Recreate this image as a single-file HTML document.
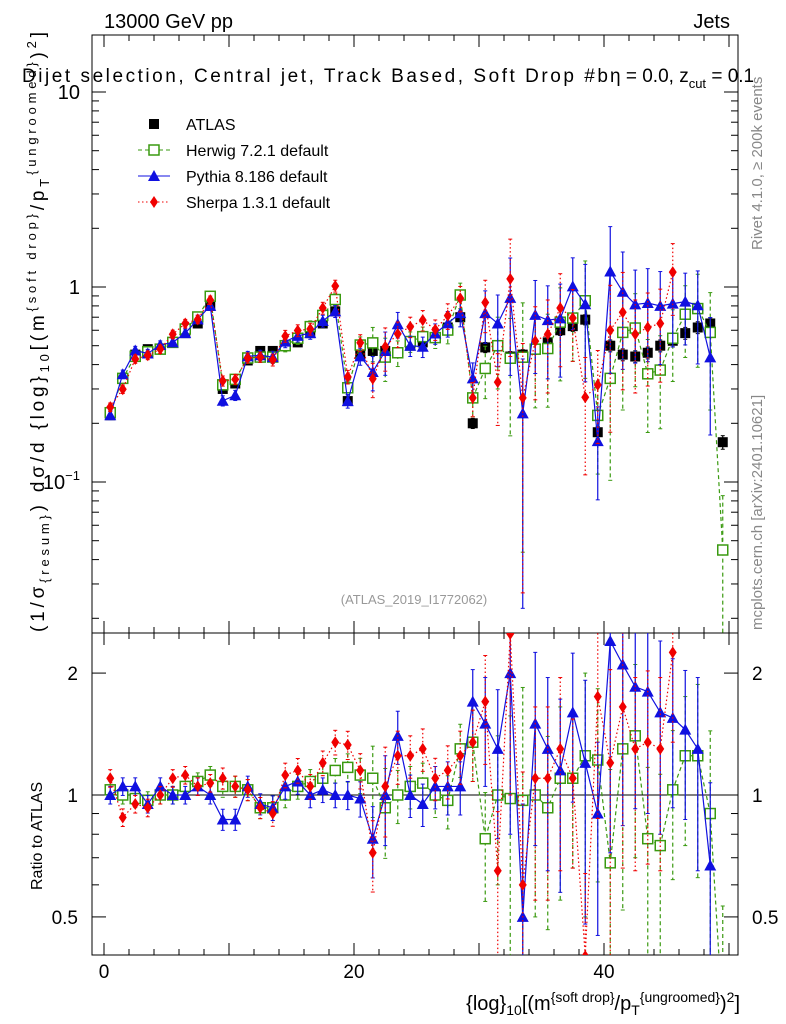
<!DOCTYPE html>
<html><head><meta charset="utf-8"><style>
html,body{margin:0;background:#fff;font-family:"Liberation Sans",sans-serif;width:786px;height:1024px;overflow:hidden}
svg{display:block}
svg text{font-family:"Liberation Sans","DejaVu Sans",sans-serif}
</style></head><body>
<svg id="c" width="786" height="1024" xmlns="http://www.w3.org/2000/svg">
<text x="104" y="28" font-size="20">13000 GeV pp</text>
<text x="730" y="28" font-size="20" text-anchor="end">Jets</text>
<text x="22" y="82" font-size="19" textLength="586" lengthAdjust="spacing">Dijet selection, Central jet, Track Based, Soft Drop #b</text>
<text x="610" y="82" font-size="19">η = 0.0, z<tspan font-size="13" dy="6">cut</tspan><tspan dy="-6"> = 0.1</tspan></text>
<text x="414" y="604" font-size="13" fill="#999" text-anchor="middle">(ATLAS_2019_I1772062)</text>
<text transform="translate(762,250) rotate(-90)" font-size="15" fill="#888">Rivet 4.1.0, ≥ 200k events</text>
<text transform="translate(762,630) rotate(-90)" font-size="15" fill="#888">mcplots.cern.ch [arXiv:2401.10621]</text>
<text transform="translate(44,632) rotate(-90)" font-size="19" textLength="600" lengthAdjust="spacing">(1/σ<tspan font-size="13" dy="5">{resum}</tspan><tspan dy="-5">) dσ/d {log}</tspan><tspan font-size="13" dy="5">10</tspan><tspan dy="-5">[(m</tspan><tspan font-size="13" dy="-8">{soft drop}</tspan><tspan dy="8">/p</tspan><tspan font-size="13" dy="5">T</tspan><tspan font-size="13" dy="-13">{ungroomed}</tspan><tspan dy="8">)</tspan><tspan font-size="13" dy="-8">2</tspan><tspan dy="8">]</tspan></text>
<text transform="translate(42,890) rotate(-90)" font-size="16">Ratio to ATLAS</text>
<text x="740" y="1010" font-size="20" text-anchor="end">{log}<tspan font-size="14" dy="5">10</tspan><tspan dy="-5">[(m</tspan><tspan font-size="14" dy="-8">{soft drop}</tspan><tspan dy="8">/p</tspan><tspan font-size="14" dy="5">T</tspan><tspan font-size="14" dy="-13">{ungroomed}</tspan><tspan dy="8">)</tspan><tspan font-size="14" dy="-8">2</tspan><tspan dy="8">]</tspan></text>
<g id="g"></g>
</svg>
<script>
const bins=[0,1,2,3,4,5,6,7,8,9,10,11,12,13,14,15,16,17,18,19,20,21,22,23,24,25,26,27,28,29,30,31,32,33,34,35,36,37,38,39,40,41,42,43,44,45,46,47,48,49];
const atlas=[0.22,0.34,0.45,0.48,0.48,0.52,0.58,0.65,0.8,0.30,0.32,0.42,0.47,0.47,0.50,0.52,0.58,0.65,0.75,0.26,0.45,0.47,0.47,0.46,0.50,0.52,0.55,0.62,0.70,0.20,0.49,0.50,0.44,0.45,0.48,0.52,0.60,0.63,0.68,0.18,0.50,0.45,0.44,0.46,0.50,0.53,0.58,0.62,0.65,0.16];
const herwigRatio=[1.03,1.0,0.98,0.97,1.0,1.0,1.05,1.08,1.12,1.05,1.05,1.03,0.93,0.93,1.0,1.05,1.08,1.1,1.15,1.17,1.12,1.1,0.93,1.0,1.05,1.07,1.0,0.97,1.3,1.35,0.78,1.0,0.98,0.97,1.0,0.93,1.1,1.1,1.25,1.22,0.68,1.3,1.4,0.78,0.75,1.03,1.25,1.25,0.9,0.28];
const pythiaRatio=[1.0,1.05,1.05,0.95,1.05,1.0,1.0,1.05,1.0,0.87,0.87,1.05,0.95,0.93,1.05,1.08,1.0,1.03,1.0,1.0,0.98,0.78,1.0,1.4,1.0,0.95,1.05,1.05,1.05,1.7,1.5,1.3,2.0,0.5,1.5,1.3,1.15,1.6,1.2,0.9,2.4,2.1,1.85,1.8,1.6,1.55,1.45,1.3,0.67];
const sherpaRatio=[1.1,0.88,0.95,0.93,1.0,1.1,1.12,1.05,1.07,1.1,1.05,1.03,0.93,0.9,1.12,1.15,1.05,1.2,1.35,1.33,1.15,0.72,1.05,1.25,1.25,1.3,1.1,1.15,1.25,1.35,1.7,0.65,2.5,0.6,1.1,1.1,1.3,1.1,0.4,1.75,1.2,1.65,1.3,1.35,1.3,2.25];
const atlasErr=[0.03,0.03,0.03,0.03,0.03,0.03,0.03,0.03,0.03,0.04,0.04,0.04,0.04,0.04,0.04,0.04,0.04,0.04,0.04,0.05,0.05,0.05,0.05,0.05,0.05,0.05,0.05,0.05,0.05,0.06,0.06,0.06,0.06,0.06,0.06,0.06,0.06,0.06,0.06,0.07,0.07,0.07,0.07,0.07,0.07,0.07,0.07,0.07,0.07,0.08];
const mcErr=[0.05,0.05,0.05,0.05,0.05,0.05,0.05,0.05,0.05,0.06,0.06,0.06,0.06,0.07,0.07,0.07,0.07,0.07,0.07,0.08,0.1,0.2,0.25,0.15,0.12,0.12,0.12,0.15,0.15,0.2,0.3,0.4,0.6,0.9,0.5,0.5,0.5,0.4,0.6,0.5,0.7,0.6,0.5,0.5,0.5,0.4,0.4,0.5,0.6,0.9];
const X0=92,X1=738,MY0=35,MY1=633,RY0=633,RY1=955;
const xs=v=>104+12.5*v;
const ym=v=>287-195*Math.log10(v);
const yr=v=>795-405*Math.log10(v);
const g=document.getElementById('g');const NS='http://www.w3.org/2000/svg';
function mk(t,a,p){const e=document.createElementNS(NS,t);for(const k in a)e.setAttribute(k,a[k]);(p||g).appendChild(e);return e;}
const clipM=mk('clipPath',{id:'cm'});mk('rect',{x:X0,y:MY0,width:X1-X0,height:MY1-MY0},clipM);
const clipR=mk('clipPath',{id:'cr'});mk('rect',{x:X0,y:RY0,width:X1-X0,height:RY1-RY0},clipR);
let f=mk('rect',{x:X0,y:MY0,width:X1-X0,height:MY1-MY0,fill:'none',stroke:'#000'});


f=mk('rect',{x:X0,y:RY0,width:X1-X0,height:RY1-RY0,fill:'none',stroke:'#000'});


for(let v=0;v<=50;v+=2){const maj=v%10==0,L=maj?12:6;
 [[RY1,-1],[MY1,-1],[RY0,1],[MY0,1]].forEach(([y,d])=>{mk('line',{x1:xs(v),x2:xs(v),y1:y,y2:y+d*L,stroke:'#000'});});}
[0,20,40].forEach(v=>{const t=mk('text',{x:xs(v),y:978,'font-size':19,'text-anchor':'middle'});t.textContent=v;

});
for(let d=-2;d<=1;d++)for(let m=1;m<=9;m++){const v=m*Math.pow(10,d),y=ym(v);if(y<MY0||y>MY1)continue;const L=m==1?14:7;
 mk('line',{x1:X0,x2:X0+L,y1:y,y2:y,stroke:'#000'});mk('line',{x1:X1,x2:X1-L,y1:y,y2:y,stroke:'#000'});}
[[10,'10'],[1,'1']].forEach(([v,s])=>{const t=mk('text',{x:80,y:ym(v)+7,'font-size':20,'text-anchor':'end'});t.textContent=s;

});
{const t=mk('text',{x:80,y:ym(0.1)+7,'font-size':20,'text-anchor':'end'});t.innerHTML='10<tspan font-size="13" dy="-9">−1</tspan>';

}
[0.5,0.6,0.7,0.8,0.9,1,2].forEach(v=>{const y=yr(v),L=(v==0.5||v==1||v==2)?14:7;
 mk('line',{x1:X0,x2:X0+L,y1:y,y2:y,stroke:'#000'});mk('line',{x1:X1,x2:X1-L,y1:y,y2:y,stroke:'#000'});});
[[2,'2'],[1,'1'],[0.5,'0.5']].forEach(([v,s])=>{[78,752].forEach((x,i)=>{const t=mk('text',{x:x,y:yr(v)+7,'font-size':19,'text-anchor':i?'start':'end'});t.textContent=s;

});});
mk('line',{x1:X0,x2:X1,y1:yr(1),y2:yr(1),stroke:'#000'});
function marker(p,kind,x,y,col){
 if(kind=='sq')mk('rect',{x:x-5,y:y-5,width:10,height:10,fill:'#000'},p);
 else if(kind=='osq')mk('rect',{x:x-5,y:y-5,width:10,height:10,fill:'#fff',stroke:col,'stroke-width':1.5},p);
 else if(kind=='tri')mk('polygon',{points:`${x},${y-6} ${x-6},${y+5} ${x+6},${y+5}`,fill:col},p);
 else mk('polygon',{points:`${x},${y-6} ${x-4},${y} ${x},${y+6} ${x+4},${y}`,fill:col},p);}
function series(name,vals,ratio,err,col,dash,kind,withRatio){
 const panels=[['m',ym,'cm',true]];if(withRatio)panels.push(['r',yr,'cr',false]);
 panels.forEach(([pn,yf,cp,main])=>{
  const p=mk('g',{'clip-path':`url(#${cp})`});
  
  
  const pts=[];
  ratio.forEach((r,i)=>{const v=main?vals[i]*r:r;pts.push([xs(bins[i]+0.5),yf(v)]);});
  if(dash!==null)mk('polyline',{points:pts.map(q=>q.join(',')).join(' '),fill:'none',stroke:col,'stroke-width':1.2,'stroke-dasharray':dash},p);
  ratio.forEach((r,i)=>{const v=main?vals[i]*r:r,e=err[i]*(main?v:r);const x=pts[i][0];
   mk('line',{x1:x,x2:x,y1:yf(v+e),y2:yf(Math.max(v-e,1e-3)),stroke:col,'stroke-width':1.2,'stroke-dasharray':dash||''},p);
   mk('line',{x1:x-2,x2:x+2,y1:yf(v+e),y2:yf(v+e),stroke:col},p);
   mk('line',{x1:x-2,x2:x+2,y1:yf(Math.max(v-e,1e-3)),y2:yf(Math.max(v-e,1e-3)),stroke:col},p);
   const m=mk('g',{},p);marker(m,kind,x,pts[i][1],col);
   
   });
 });}
series('atlas',atlas,atlas.map(()=>1),atlasErr,'#000',null,'sq',false);
series('herwig',atlas,herwigRatio,mcErr,'#3a9a10','4,3','osq',true);
series('pythia',atlas,pythiaRatio,mcErr,'#1010e0','','tri',true);
series('sherpa',atlas,sherpaRatio,mcErr,'#f00000','1.5,2.5','dia',true);
const leg=[['ATLAS','#000',null,'sq'],['Herwig 7.2.1 default','#3a9a10','4,3','osq'],['Pythia 8.186 default','#1010e0','','tri'],['Sherpa 1.3.1 default','#f00000','1.5,2.5','dia']];
leg.forEach((l,i)=>{const y=124+26*i;const e=mk('g',{});
 
 
 if(l[2]!==null)mk('line',{x1:138,x2:170,y1:y,y2:y,stroke:l[1],'stroke-dasharray':l[2]},e);
 marker(e,l[3],154,y,l[1]);
 const t=mk('text',{x:186,y:y+6,'font-size':16},e);t.textContent=l[0];});
</script>
</body></html>
